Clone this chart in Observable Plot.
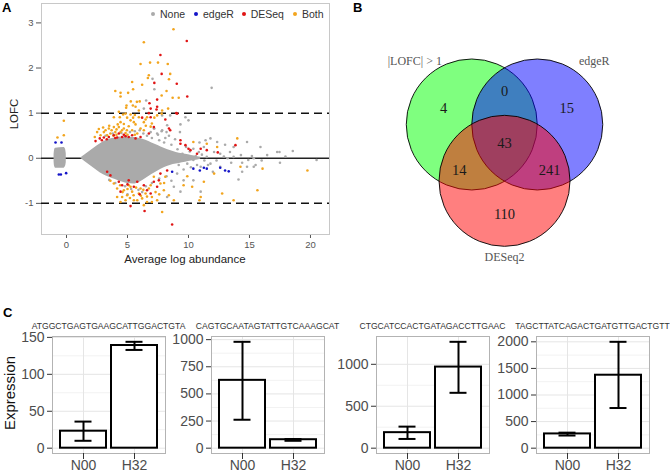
<!DOCTYPE html>
<html><head><meta charset="utf-8">
<script src="https://cdn.jsdelivr.net/npm/d3@7"></script>
<script src="https://cdn.jsdelivr.net/npm/@observablehq/plot@0.6"></script>
<style>
body{margin:0;width:670px;height:476px;position:relative;overflow:hidden;background:#fff;font-family:"Liberation Sans",Arial,sans-serif}
.abs{position:absolute;white-space:nowrap}
.plabel{font-weight:bold;font-size:13px;color:#000;line-height:1}
svg{display:block}
</style></head><body>
<script>
// ---------- Panel A data ----------
const legendNames = ["None","edgeR","DESeq","Both"];
const legendColors = ["#aaaaaa","#1414c8","#e01414","#f2a51e"];
const cloudX  = [1.15,1.5,2.0,2.5,3.0,3.5,4.0,4.5,5.0,5.5,6.0,6.5,7.0,7.5,8.0,8.5,9.0,9.5,10,10.5,11];
const cloudHi = [0.0,0.07,0.17,0.27,0.36,0.42,0.45,0.47,0.47,0.46,0.44,0.4,0.34,0.28,0.22,0.17,0.13,0.10,0.08,0.05,0.02];
const cloudLo = [0.0,-0.07,-0.17,-0.27,-0.36,-0.42,-0.47,-0.52,-0.56,-0.57,-0.53,-0.45,-0.36,-0.28,-0.21,-0.16,-0.13,-0.10,-0.07,-0.05,-0.02];
const zeroX  = [-1.02,-0.98,-0.9,-0.2,-0.08,-0.02];
const zeroHi = [0.08,0.18,0.22,0.24,0.2,0.1];
const zeroLo = [-0.08,-0.18,-0.22,-0.22,-0.18,-0.1];
const nonePts = [[3.2,0.5],[3.8,0.55],[4.5,0.56],[5.2,0.58],[5.6,0.6],[6.0,0.62],[6.3,0.55],[6.6,0.5],[6.9,0.58],[7.2,0.66],[7.5,0.52],[7.8,0.6],[8.1,0.45],[8.4,0.5],[8.2,0.58],[7.0,0.45],[7.6,0.4],[8.0,0.35],[8.6,0.3],[8.9,0.42],[9.3,0.58],[9.34,0.75],[9.75,0.91],[8.5,0.95],[7.16,0.66],[7.84,0.62],[8.25,0.73],[7.43,0.55],[6.53,1.28],[6.34,1.1],[7.2,1.53],[7.05,1.76],[7.84,0.95],[11.9,1.56],[10.0,0.84],
[3.5,-0.48],[4.0,-0.55],[4.8,-0.62],[5.3,-0.68],[5.9,-0.7],[6.5,-0.62],[7.0,-0.55],[7.6,-0.45],[8.2,-0.4],[8.6,-0.5],[8.8,-0.63],[9.34,-0.74],[8.25,-0.86],[9.07,-0.34],[9.6,-0.49],[10.4,-0.49],[11.0,-0.74],[6.2,-0.75],[5.0,-0.8],
[9.1,0.2],[9.2,-0.15],[9.5,0.1],[9.6,-0.25],[9.8,0.25],[9.9,0.03],[9.9,-0.12],[10.1,0.15],[10.2,-0.2],[10.4,-0.04],[10.4,0.21],[10.6,0.05],[10.7,-0.15],[10.85,0.14],[11.0,-0.19],[11.1,0.08],[11.26,0.25],[11.3,-0.05],[11.5,0.03],[11.6,-0.15],[11.8,0.44],[11.8,-0.12],[12.1,0.14],[12.3,-0.05],[12.35,0.36],[12.6,0.1],[12.6,-0.19],[12.9,0.04],[13.2,0],[13.4,0.14],[13.5,-0.1],[13.7,0.25],[13.7,0.03],[14.1,-0.47],[14.3,0.07],[14.8,0.36],[14.8,-0.19],[14.9,-0.04],[15.35,-0.19],[15.5,-0.15],[15.9,0.25],[16.45,0.07],[17.27,0.14],[17.5,-0.1],[17.95,0.04],[18.55,0.16],[20.5,-0.04],[15.2,0.05],[16.0,-0.05],[13.0,0.3],[12.0,-0.3],[10.9,0.35],[11.4,0.4],[15.35,0],[14.4,-0.3],[14.4,-0.1],[17.46,0.14]];
const edgeRPts = [[-0.9,0.35],[-0.41,0.35],[-0.63,-0.36],[-0.46,-0.36],[-0.03,-0.33],[8.66,-0.3],[10.4,-0.23],[10.93,-0.27],[11.26,-0.21],[12.6,-0.21],[13.0,-0.27],[13.3,-0.29],[11.5,-0.23]];
const deseqPts = [[9.86,2.6],[7.7,2.29],[7.8,1.87],[7.2,1.67],[9.04,1.65],[9.9,1.37],[7.43,1.3],[6.8,1.22],[7.38,1.08],[9.0,1.0],[6.75,1.0],[6.2,0.9],[6.9,0.91],[8.1,0.86],[7.43,1.14],[6.9,1.1],
[2.38,0.38],[2.73,0.44],[3.06,0.46],[3.47,0.47],[3.88,0.51],[4.15,0.46],[4.56,0.47],[4.84,0.49],[5.1,0.47],[5.38,0.51],[4.29,0.55],[5.66,0.44],[6.07,0.47],[6.75,0.55],[7.16,0.69],[8.4,0.66],[9.07,0.99],[9.34,0.4],[9.75,0.29],[10.0,0.21],[11.0,0.21],[11.5,0.18],[13.85,0.29],[10.7,0.1],[12.4,0.13],[10.16,0.18],[9.34,0.32],[8.5,0.62],[3.3,0.42],[4.0,0.45],[4.7,0.52],[2.9,0.4],
[3.33,-0.3],[3.6,-0.38],[4.29,-0.52],[4.56,-0.6],[4.43,-0.74],[5.1,-0.49],[5.52,-0.63],[5.8,-0.52],[6.34,-0.6],[6.6,-0.71],[7.16,-0.52],[7.43,-0.63],[7.57,-0.49],[5.25,-1.06],[6.4,-1.17],[8.66,-1.47],[7.7,-0.34],[8.25,-0.27],[5.0,-0.58],[6.0,-0.8],[6.9,-0.78]];
const bothPts = [[-0.74,0.46],[-0.22,0.83],[-0.22,0.51],
[8.77,2.86],[6.34,2.57],[6.07,2.09],[6.85,2.12],[7.5,2.12],[8.3,2.09],[6.75,1.84],[6.67,1.78],[8.5,1.87],[8.4,1.75],[5.38,1.69],[6.2,1.63],[5.46,1.53],[4.0,1.49],[4.43,1.45],[4.43,1.37],[5.05,1.45],[8.2,1.49],[7.8,1.39],[8.7,1.34],[9.2,1.34],[5.77,1.25],[6.0,1.26],[4.92,1.17],[5.27,1.26],[5.44,1.17],[5.66,1.14],[4.89,1.12],[8.33,1.1],[4.29,1.03],[4.64,0.97],[5.25,0.97],[5.6,0.96],[7.8,0.99],[3.88,0.91],[4.37,0.91],[4.97,0.9],[5.46,0.9],[5.93,0.91],[6.48,0.86],
[2.65,0.65],[3.06,0.58],[3.47,0.66],[3.88,0.69],[4.29,0.69],[4.7,0.66],[5.1,0.71],[4.0,0.58],[4.43,0.58],[3.6,0.55],[3.33,0.51],[4.84,0.56],[5.38,0.62],[5.66,0.75],[6.07,0.66],[5.8,0.55],[6.34,0.62],[5.25,0.84],[4.84,0.99],[4.43,0.8],[5.52,0.8],[5.93,1.06],[6.6,0.91],[7.0,0.77],[7.43,0.95],[7.84,1.06],[6.34,0.8],[2.51,0.58],[2.79,0.51],[2.32,0.47],[3.2,0.62],[3.7,0.62],[4.1,0.64],[4.55,0.62],[4.95,0.62],[3.0,0.68],[4.2,0.75],[3.5,0.72],[4.7,0.76],[5.0,0.52],[5.6,0.52],[6.9,0.7],[6.5,0.72],[7.2,0.9],[4.1,0.52],[3.85,0.5],
[10.4,0.36],[11.5,0.32],[12.35,0.25],[14.0,0.44],[14.26,-0.19],[16.07,-0.23],[15.65,-0.71],[19.75,-0.27],[11.26,-0.52],[10.3,-0.63],[11.0,-0.86],[10.9,-0.93],[12.76,-0.78],[13.7,-0.93],[12.1,-0.34],[9.6,-0.6],[9.9,-0.4],
[3.88,-0.56],[4.15,-0.67],[4.7,-0.71],[4.97,-0.82],[5.38,-0.74],[5.52,-0.93],[5.93,-0.78],[6.2,-0.89],[6.48,-0.78],[6.75,-0.67],[7.0,-0.86],[6.07,-0.67],[5.8,-0.93],[4.84,-0.93],[4.56,-0.86],[5.25,-0.63],[7.0,-0.97],[7.84,-1.19],[7.98,-0.71],[8.39,-0.82],[8.8,-0.93],[7.7,-0.56],[8.1,-0.41],[7.16,-0.41],[6.6,-0.97],[6.34,-1.04],[4.43,-0.97],[4.15,-0.86],[7.43,-0.93],[5.1,-0.6],[5.7,-0.65],[6.3,-0.7],[6.9,-0.6],[4.4,-0.6],[5.0,-0.68],[5.5,-0.82],[6.1,-0.83],[6.6,-0.85],[7.3,-0.75],[4.6,-0.75],[5.2,-0.88],[7.6,-0.8],[8.0,-0.55],[3.6,-0.5]];
const xTicksA = [0,5,10,15,20];
const yTicksA = [-1,0,1,2,3];

// ---------- Panel B data ----------
const vennNames = ["|LOFC| > 1","edgeR","DESeq2"];
const vennColors = ["#00ff00","#0000ff","#ff0000"];
const vennCx = [-0.5, 0.5, 0];
const vennCy = [0, 0, -0.86];
const vennLabelX = [-1.37, 1.37, 0];
const vennLabelY = [0.96, 0.96, -2.03];
const vennCounts = [4, 0, 15, 43, 14, 241, 110];
const vennCountX = [-0.93, 0, 0.95, 0, -0.69, 0.69, 0];
const vennCountY = [0.24, 0.5, 0.24, -0.29, -0.70, -0.70, -1.37];

// ---------- Panel C data ----------
const groups = ["N00","H32"];
const seqs = ["ATGGCTGAGTGAAGCATTGGACTGTA","CAGTGCAATAGTATTGTCAAAGCAT","CTGCATCCACTGATAGACCTTGAAC","TAGCTTATCAGACTGATGTTGACTGTT"];
const meanN00 = [23, 625, 185, 268];
const meanH32 = [139, 78, 967, 1372];
const lowN00  = [10, 262, 110, 238];
const highN00 = [36, 980, 257, 292];
const lowH32  = [133, 68, 660, 755];
const highH32 = [144, 84, 1268, 2000];
const yTicksC = [[0,50,100,150],[0,250,500,750,1000],[0,500,1000],[0,500,1000,1500,2000]];

// ---------- helpers ----------
function place(el, left, top) {
  const d = document.createElement("div");
  d.className = "abs"; d.style.left = left + "px"; d.style.top = top + "px";
  d.appendChild(el); document.body.appendChild(d); return d;
}
function text(str, css) {
  const d = document.createElement("div");
  d.className = "abs"; d.textContent = str; d.style.cssText += css;
  document.body.appendChild(d); return d;
}
const toObj = pts => pts.map(([x, y]) => ({x, y}));

// ---------- Panel A ----------
const cloud = cloudX.map((x, i) => ({x, hi: cloudHi[i], lo: cloudLo[i]}));
const zeroCl = zeroX.map((x, i) => ({x, hi: zeroHi[i], lo: zeroLo[i]}));
const A = Plot.plot({
  width: 340, height: 266, marginLeft: 41, marginRight: 11, marginTop: 3, marginBottom: 32,
  x: {domain: [-2.05, 21.56], ticks: xTicksA, tickSize: 4, tickPadding: 3, label: null, tickFormat: d => String(d)},
  y: {domain: [-1.69, 3.43], ticks: yTicksA, tickSize: 5, tickPadding: 3, label: null, tickFormat: d => String(d)},
  style: {fontSize: "9.5px", color: "#555", fontFamily: "Liberation Sans, Arial, sans-serif", background: "transparent"},
  marks: [
    Plot.frame({stroke: "#c8c8c8"}),
    Plot.ruleY([0], {stroke: "#222", strokeWidth: 1.4}),
    Plot.ruleY([-1, 1], {stroke: "#111", strokeWidth: 1.5, strokeDasharray: "8,5"}),
    Plot.areaY(cloud, {x: "x", y1: "lo", y2: "hi", fill: legendColors[0], curve: "monotone-x"}),
    Plot.areaY(zeroCl, {x: "x", y1: "lo", y2: "hi", fill: legendColors[0], curve: "monotone-x"}),
    Plot.dot(toObj(nonePts), {x: "x", y: "y", r: 1.3, fill: legendColors[0]}),
    Plot.dot(toObj(bothPts), {x: "x", y: "y", r: 1.3, fill: legendColors[3]}),
    Plot.dot(toObj(deseqPts), {x: "x", y: "y", r: 1.3, fill: legendColors[2]}),
    Plot.dot(toObj(edgeRPts), {x: "x", y: "y", r: 1.3, fill: legendColors[1]})
  ]
});
place(A, 0, 0);
// legend
const legDotX = [153, 196, 243.7, 295];
legendNames.forEach((n, i) => {
  text("", `left:${legDotX[i]-2}px;top:12px;width:4px;height:4px;border-radius:50%;background:${legendColors[i]}`);
  text(n, `left:${legDotX[i]+7}px;top:8px;font-size:10.5px;color:#333;line-height:12px`);
});
text("Average log abundance", "left:85px;width:200px;text-align:center;top:252px;font-size:11.5px;color:#222;line-height:14px");
text("LOFC", "left:-6px;width:40px;text-align:center;top:107px;font-size:11.5px;color:#222;line-height:14px;transform:rotate(-90deg)");
text("A", "left:2px;top:1px", ).className = "abs plabel";

// ---------- Panel B ----------
const vSets = vennNames.map((n, i) => ({n, c: vennColors[i], cx: vennCx[i], cy: vennCy[i], lx: vennLabelX[i], ly: vennLabelY[i], rad: 1}));
const vCounts = vennCounts.map((v, i) => ({v, x: vennCountX[i], y: vennCountY[i]}));
const B = Plot.plot({
  width: 330, height: 270, margin: 0,
  x: {domain: [-2.504, 2.534], axis: null},
  y: {domain: [-2.229, 1.893], axis: null},
  r: {type: "linear", domain: [0, 1], range: [0, 65.5]},
  color: {type: "identity"},
  style: {background: "transparent"},
  marks: [
    Plot.dot(vSets, {x: "cx", y: "cy", r: "rad", fill: "c", fillOpacity: 0.5, stroke: "#000", strokeWidth: 0.9}),
    Plot.text(vCounts, {x: "x", y: "y", text: "v", fontSize: 14.5, fontFamily: "Liberation Serif, Times New Roman, serif", fill: "#1a1a1a"}),
    Plot.text(vSets, {x: "lx", y: "ly", text: "n", fontSize: 12, fontFamily: "Liberation Serif, Times New Roman, serif", fill: "#555"})
  ]
});
place(B, 340, 0);
text("B", "left:353px;top:1px").className = "abs plabel";

// ---------- Panel C ----------
const cLayout = [
  {left: 0, width: 170, ml: 52, mr: 5},
  {left: 170, width: 158, ml: 41, mr: 4},
  {left: 330, width: 163, ml: 46, mr: 4},
  {left: 493, width: 160, ml: 43, mr: 4}
];
seqs.forEach((s, i) => {
  const L = cLayout[i];
  const rows = [
    {g: groups[0], m: meanN00[i], lo: lowN00[i], hi: highN00[i]},
    {g: groups[1], m: meanH32[i], lo: lowH32[i], hi: highH32[i]}
  ];
  const top = Math.max(...rows.map(r => r.hi));
  const ticks = yTicksC[i];
  const minor = ticks.slice(1).map((t, j) => (t + ticks[j]) / 2);
  const chart = Plot.plot({
    width: L.width, height: 158, marginLeft: L.ml, marginRight: L.mr, marginTop: 18, marginBottom: 23,
    x: {domain: groups, paddingInner: 0.1, paddingOuter: 0.15},
    y: {domain: [-0.05 * top, 1.05 * top]},
    style: {fontSize: "14px", color: "#4d4d4d", fontFamily: "Liberation Sans, Arial, sans-serif", background: "transparent"},
    marks: [
      Plot.gridY(minor, {stroke: "#f2f2f2", strokeOpacity: 1}),
      Plot.gridY(ticks, {stroke: "#e5e5e5", strokeOpacity: 1}),
      Plot.gridX(groups, {stroke: "#e5e5e5", strokeOpacity: 1}),
      Plot.barY(rows, {x: "g", y: "m", fill: "#fff", stroke: "#000", strokeWidth: 2}),
      Plot.ruleX(rows, {x: "g", y1: "lo", y2: "hi", stroke: "#000", strokeWidth: 2}),
      Plot.tickY(rows, {x: "g", y: "lo", stroke: "#000", strokeWidth: 2, insetLeft: 14.5, insetRight: 14.5}),
      Plot.tickY(rows, {x: "g", y: "hi", stroke: "#000", strokeWidth: 2, insetLeft: 14.5, insetRight: 14.5}),
      Plot.frame({stroke: "#b3b3b3"}),
      Plot.axisX({tickSize: 6, tickPadding: 1, label: null, fontSize: 14, stroke: "#333"}),
      Plot.axisY(ticks, {tickSize: 5, tickPadding: 3, label: null, fontSize: 14, tickFormat: d => String(d), stroke: "#333"})
    ]
  });
  place(chart, L.left, 318);
  const cx = L.left + L.ml + (L.width - L.ml - L.mr) / 2;
  text(s, `left:${cx - 100}px;width:200px;text-align:center;top:321px;font-size:8.6px;color:#333;line-height:10px`);
});
text("Expression", "left:-40px;width:100px;text-align:center;top:384px;font-size:15px;color:#111;line-height:18px;transform:rotate(-90deg)");
text("C", "left:3px;top:306px").className = "abs plabel";
</script>
</body></html>
